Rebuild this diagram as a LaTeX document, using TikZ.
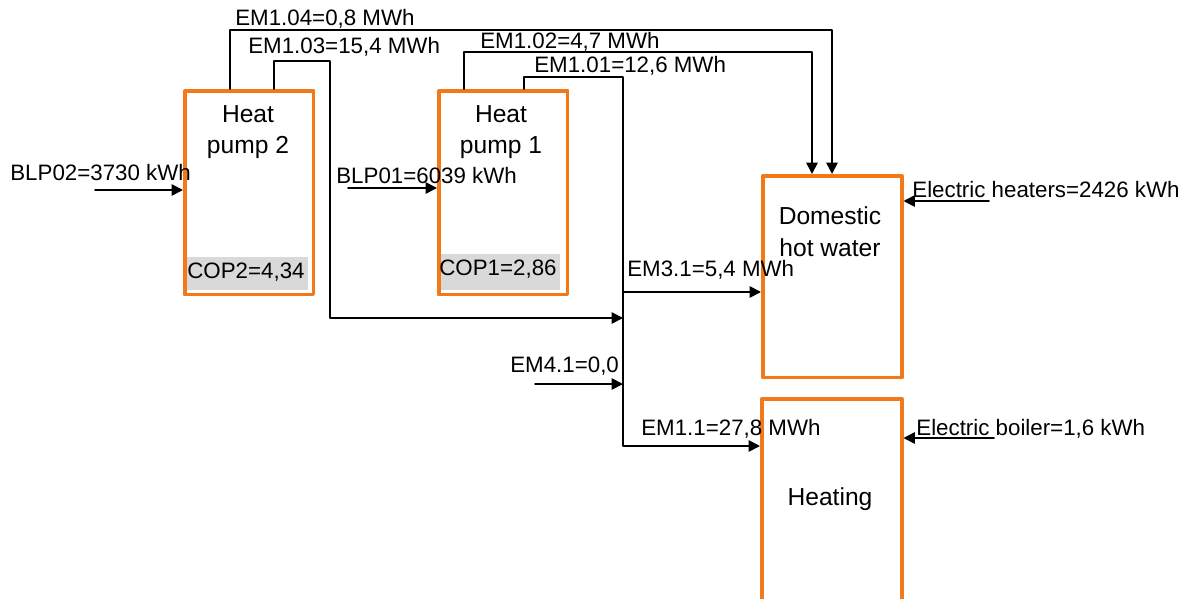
\documentclass[tikz,border=0pt]{standalone}
\usepackage{fontspec}
\setmainfont{Liberation Sans}
\usetikzlibrary{arrows.meta, calc}

\definecolor{boxorange}{RGB}{242,120,24}
\definecolor{copgray}{RGB}{217,217,217}

\begin{document}
\begin{tikzpicture}[x=0.02cm, y=-0.02cm, line cap=round, line join=round,
    unit/.style={draw=boxorange, line width=2pt, inner sep=0pt, anchor=north west},
    title/.style={align=center, font=\fontsize{14pt}{18pt}\selectfont},
    lbl/.style={anchor=base west, inner sep=0pt, font=\fontsize{12.7pt}{15pt}\selectfont},
    flow/.style={line width=1pt, -{Triangle[length=6.5pt, width=6.5pt]}}]

    \useasboundingbox (0,0) rectangle (1192,598);

    % Zonas grises del COP
    \fill[copgray] (187,257) rectangle (308,290);
    \fill[copgray] (439,254) rectangle (560,290);

    % Cajas
    \node[unit, minimum width=2.58cm, minimum height=4.08cm] (hp2) at (183,89) {};
    \node[unit, minimum width=2.58cm, minimum height=4.08cm] (hp1) at (437,89) {};
    \node[unit, minimum width=2.78cm, minimum height=4.04cm] (dhw) at (761,174) {};
    \node[unit, minimum width=2.80cm, minimum height=4.30cm] (heat) at (760,397) {};

    % Textos de las cajas
    \node[title] (hp2txt) at (248,132) {Heat\\pump 2};
    \node[title] (hp1txt) at (501,132) {Heat\\pump 1};
    \node[title] (dhwtxt) at (830,232) {Domestic\\hot water};
    \node[title] (heattxt) at (830,499) {Heating};
    \node[lbl] (cop2) at (187,278) {COP2=4,34};
    \node[lbl] (cop1) at (439,275) {COP1=2,86};

    % Puntos de salida y nudo
    \coordinate (t104) at ($(hp2.north west)+(47,0)$);
    \coordinate (t103) at ($(hp2.north west)+(91,0)$);
    \coordinate (t102) at ($(hp1.north west)+(27,0)$);
    \coordinate (t101) at ($(hp1.north west)+(87,0)$);
    \coordinate (j31) at (623,292);
    \coordinate (j3) at (623,318);
    \coordinate (j4) at (623,384);
    \coordinate (j11) at (623,446);
    \coordinate (blp2) at (95,190);
    \coordinate (blp1) at (348,188);
    \coordinate (em41) at (535,384);
    \coordinate (eh) at (989,201);
    \coordinate (eb) at (994,438);

    % Lineas de energia
    \draw[flow] (t104) -- ++(0,-59) -| ($(dhw.north west)+(71,0)$);
    \draw[flow] (t102) -- ++(0,-37) -| ($(dhw.north west)+(51,0)$);
    \draw[flow] (t103) -- ++(0,-28) -- ++(56,0) |- (j3);
    \draw[flow] (t101) -- ++(0,-12) -| (j11) -- (j11 -| heat.west);
    \draw[flow] (j31) -- (j31 -| dhw.west);
    \draw[flow] (em41) -- (j4);
    \draw[flow] (blp2) -- (blp2 -| hp2.west);
    \draw[flow] (blp1) -- (blp1 -| hp1.west);
    \draw[flow] (eh) -- (eh -| dhw.east);
    \draw[flow] (eb) -- (eb -| heat.east);

    % Etiquetas
    \node[lbl] (l104) at (235,26) {EM1.04=0,8 MWh};
    \node[lbl] (l103) at (248,54) {EM1.03=15,4 MWh};
    \node[lbl] (l102) at (480,49) {EM1.02=4,7 MWh};
    \node[lbl] (l101) at (534,72) {EM1.01=12,6 MWh};
    \node[lbl] (lblp2) at (10,180) {BLP02=3730 kWh};
    \node[lbl] (lblp1) at (336,183) {BLP01=6039 kWh};
    \node[lbl] (leh) at (912,197) {Electric heaters=2426 kWh};
    \node[lbl] (l31) at (627,276) {EM3.1=5,4 MWh};
    \node[lbl] (l41) at (510,372) {EM4.1=0,0};
    \node[lbl] (l11) at (641,435) {EM1.1=27,8 MWh};
    \node[lbl] (leb) at (916,435) {Electric boiler=1,6 kWh};

\end{tikzpicture}
\end{document}
